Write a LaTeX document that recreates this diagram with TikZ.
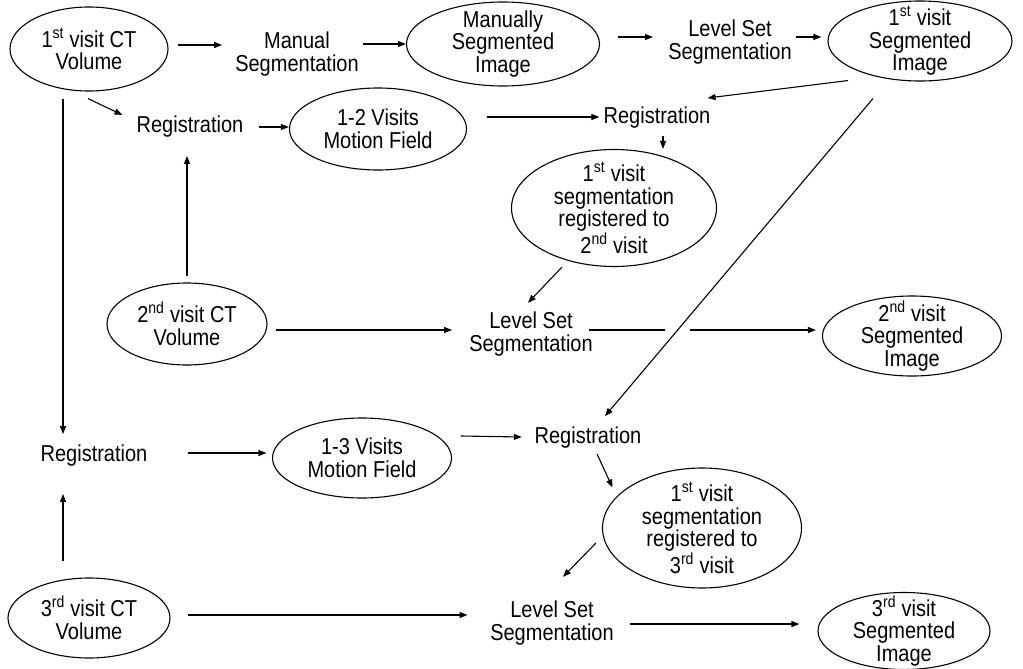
\documentclass[tikz,border=0pt]{standalone}
\usepackage{fontspec}
\setmainfont{Liberation Sans}[FakeStretch=0.87]
\usetikzlibrary{shapes.geometric,arrows.meta}

\begin{document}
\begin{tikzpicture}
  [
    x=1pt, y=-1pt,
    every node/.style = {font=\fontsize{23}{22.5}\selectfont, align=center, inner sep=0pt},
    blob/.style 2 args = {shape=ellipse, draw, line width=1.1pt, inner sep=-8pt,
                          minimum width=#1, minimum height=#2},
    arr/.style = {draw, line width=1.1pt, -{Triangle[length=8pt,width=6pt]}},
  ]
  \useasboundingbox (0,0) rectangle (1023,669);

  % first visit row
  \node [blob={158pt}{84pt}] (v1) at (89,49) {1\textsuperscript{st} visit CT\\Volume};
  \node (man) at (297,54) {Manual\\Segmentation};
  \node [blob={193pt}{84pt}] (msi) at (503,44) {Manually\\Segmented\\Image};
  \node (lss1) at (730,42) {Level Set\\Segmentation};
  \node [blob={184pt}{80pt}] (s1) at (920,41) {1\textsuperscript{st} visit\\Segmented\\Image};

  % second visit
  \node (reg1) at (190,127) {Registration};
  \node [blob={177pt}{82pt}] (mf12) at (378,129) {1-2 Visits\\Motion Field};
  \node (reg2) at (657,118) {Registration};
  \node [blob={205pt}{117pt}] (r12) at (614,208) {1\textsuperscript{st} visit\\segmentation\\registered to\\2\textsuperscript{nd} visit};
  \node [blob={160pt}{82pt}] (v2) at (187,324) {2\textsuperscript{nd} visit CT\\Volume};
  \node (lss2) at (531,334) {Level Set\\Segmentation};
  \node [blob={179pt}{80pt}] (s2) at (912,336) {2\textsuperscript{nd} visit\\Segmented\\Image};

  % third visit
  \node (reg3) at (94,456) {Registration};
  \node [blob={179pt}{80pt}] (mf13) at (362,458) {1-3 Visits\\Motion Field};
  \node (reg4) at (588,438) {Registration};
  \node [blob={199pt}{120pt}] (r13) at (702,528) {1\textsuperscript{st} visit\\segmentation\\registered to\\3\textsuperscript{rd} visit};
  \node [blob={162pt}{80pt}] (v3) at (89,618) {3\textsuperscript{rd} visit CT\\Volume};
  \node (lss3) at (552,623) {Level Set\\Segmentation};
  \node [blob={172pt}{74pt}] (s3) at (904,631) {3\textsuperscript{rd} visit\\Segmented\\Image};

  % connectors
  \draw [arr, shorten <=9pt, shorten >=13pt] ([yshift=4pt]v1.east) -- ([yshift=4pt]v1.east -| man.west);
  \draw [arr, shorten <=4pt] (msi.west -| man.east) -- (msi.west);
  \draw [arr, shorten <=18pt, shorten >=15pt] ([yshift=7pt]msi.east) -- ([yshift=5pt]lss1.west);
  \draw [arr, shorten <=4pt, shorten >=6pt] ([yshift=5pt]lss1.east) -- ([yshift=4pt]s1.west);
  \draw [arr] ([shift={(-1,7)}]v1.south) -- ([shift={(-14,-12)}]reg1.west);
  \draw [arr, shorten <=15pt] (reg1.east) -- (reg1.east -| mf12.west);
  \draw [arr, shorten <=6pt, shorten >=18pt] (v2.north) -- (v2.north |- reg1.south);
  \draw [arr, shorten <=20pt, shorten >=4pt] ([yshift=12pt]mf12.east) -- ([yshift=1pt]reg2.west);
  \draw [arr] ([shift={(-72,-1)}]s1.south) -- ([shift={(-3,-20)}]reg2.east);
  \draw [arr, shorten <=7pt] ([xshift=6pt]reg2.south) -- ([xshift=49pt]r12.north);
  \draw [arr] ([shift={(-47,17)}]s1.south) -- ([shift={(17,-11)}]reg4.north);
  \draw [arr, shorten <=8pt, shorten >=17pt] ([yshift=-6pt]v2.east) -- ([yshift=4pt]lss2.west);
  \draw [arr] ([xshift=-52pt]r12.south) -- ([shift={(-3,-9)}]lss2.north);
  \coordinate (hopL) at (665,330);
  \coordinate (hopR) at (690,330);
  \draw [line width=1.1pt] ([shift={(-4,-4)}]lss2.east) -- (hopL);
  \draw [arr, shorten >=6pt] (hopR) -- ([yshift=6pt]s2.west);
  \draw [arr] ([shift={(-26,7)}]v1.south) -- ([shift={(-31,-11)}]reg3.north);
  \draw [arr] ([shift={(-26,-16)}]v3.north) -- ([shift={(-31,27)}]reg3.south);
  \draw [arr] ([shift={(40,-3)}]reg3.east) -- ([shift={(-5.5,-5)}]mf13.west);
  \draw [arr] ([shift={(8.5,-22)}]mf13.east) -- ([shift={(-12.6,-1)}]reg4.west);
  \draw [arr] ([shift={(9,5)}]reg4.south) -- ([shift={(-89.5,20)}]r13.north);
  \draw [arr] ([shift={(-6,15)}]r13.west) -- ([shift={(11,-24)}]lss3.north);
  \draw [arr] ([shift={(17,-3)}]v3.east) -- ([shift={(-22.5,-8)}]lss3.west);
  \draw [arr] ([shift={(16.5,1)}]lss3.east) -- ([shift={(-18,-7)}]s3.west);
\end{tikzpicture}
\end{document}
